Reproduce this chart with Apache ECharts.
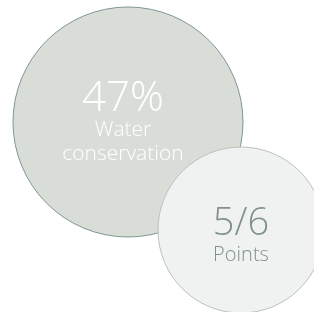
<!DOCTYPE html>
<html>
<head>
<meta charset="utf-8">
<script src="https://cdn.jsdelivr.net/npm/echarts@6/dist/echarts.min.js"></script>
<style>
  html, body { margin: 0; padding: 0; background: #fff; }
  #chart { width: 314px; height: 312px; }
</style>
</head>
<body>
<div id="chart"></div>
<script>
// bubble data: headline value, caption, centre and diameter (chart units = px)
const values = ['47%', '5/6'];
const captions = ['Water\nconservation', 'Points'];
const xs = [128, 241];
const ys = [122, 230];
const diameters = [230, 166];

const fills = ['#d8ddd8', '#f0f2f1'];
const borders = ['#7f9692', '#b8c2be'];
const textColors = ['#ffffff', '#7f928e'];

const chart = echarts.init(document.getElementById('chart'), null, { renderer: 'canvas' });

const data = values.map((v, i) => ({
    value: [xs[i], ys[i]],
    symbolSize: diameters[i],
    itemStyle: { color: fills[i], borderColor: borders[i], borderWidth: 1, opacity: 1 },
    label: {
        show: true,
        position: 'inside',
        offset: i === 0 ? [-5, 1] : [0, 6],
        formatter: () => '{big|' + v + '}\n' + captions[i].split('\n').map(c => '{small|' + c + '}').join('\n'),
        rich: {
            big: { fontSize: i === 0 ? 42 : 38, lineHeight: 38, color: textColors[i], fontFamily: 'Open Sans', fontWeight: 300 },
            small: { fontSize: i === 0 ? 21 : 20, lineHeight: 24, color: textColors[i], fontFamily: 'Open Sans', fontWeight: 300 }
        }
    }
}));

chart.setOption({
    animation: false,
    grid: { left: 0, right: 0, top: 0, bottom: 0 },
    xAxis: { type: 'value', min: 0, max: 314, show: false },
    yAxis: { type: 'value', min: 0, max: 312, inverse: true, show: false },
    series: [{
        type: 'scatter',
        symbol: 'circle',
        data: data,
        emphasis: { disabled: true }
    }]
});
</script>
</body>
</html>
